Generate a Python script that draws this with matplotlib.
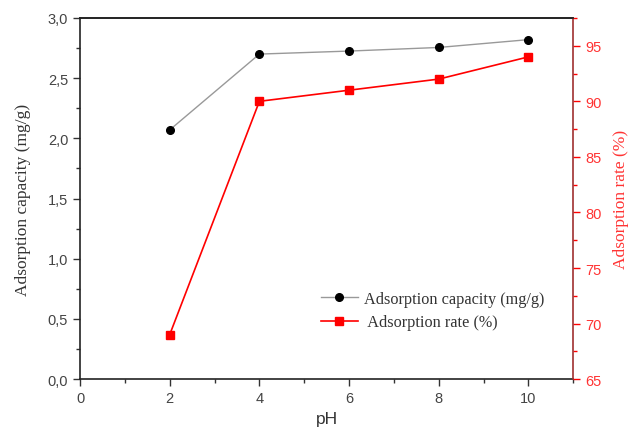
import matplotlib
matplotlib.use("Agg")
import matplotlib.pyplot as plt
from matplotlib.ticker import MultipleLocator, FuncFormatter

ph = [2, 4, 6, 8, 10]
capacity = [2.07, 2.70, 2.725, 2.755, 2.82]
rate = [69, 90, 91, 92, 94]

fig = plt.figure(figsize=(6.3, 4.31), dpi=100)
ax = fig.add_axes([0.127, 0.118, 0.783, 0.838])
ax2 = ax.twinx()

sans = "Liberation Sans"
serif = "Liberation Serif"

l1, = ax.plot(ph, capacity, color="#999999", lw=1, marker="o", ms=5.5,
              mfc="black", mec="black", label="Adsorption capacity (mg/g)")
l2, = ax2.plot(ph, rate, color="red", lw=1.2, marker="s", ms=5.5,
               mfc="red", mec="red", label=" Adsorption rate (%)")

ax.set_xlim(0, 11)
ax.set_ylim(0, 3.0)
ax2.set_ylim(65, 97.5)

ax.xaxis.set_major_locator(MultipleLocator(2))
ax.xaxis.set_minor_locator(MultipleLocator(1))
ax.yaxis.set_major_locator(MultipleLocator(0.5))
ax.yaxis.set_minor_locator(MultipleLocator(0.25))
ax2.yaxis.set_major_locator(MultipleLocator(5))
ax2.yaxis.set_minor_locator(MultipleLocator(2.5))

ax.yaxis.set_major_formatter(FuncFormatter(lambda v, p: f"{v:.1f}".replace(".", ",")))

ax.tick_params(axis="both", which="both", direction="out", colors="#333333", labelsize=10.5)
ax.tick_params(which="major", length=5, width=1)
ax.tick_params(which="minor", length=3, width=1)
for lab in ax.get_xticklabels() + ax.get_yticklabels():
    lab.set_fontfamily(sans)
ax.tick_params(axis="x", labelcolor="#444444")
ax.tick_params(axis="y", labelcolor="#444444")

ax2.tick_params(axis="y", which="both", direction="out", colors="red", labelsize=10.5)
ax2.tick_params(which="major", length=5, width=1)
ax2.tick_params(which="minor", length=3, width=1)
for lab in ax2.get_yticklabels():
    lab.set_fontfamily(sans)
    lab.set_color("#ff3333")

for s in ["left", "bottom", "top"]:
    ax.spines[s].set_color("#222222")
    ax.spines[s].set_linewidth(1.2)
ax2.spines["right"].set_color("#a03030")
ax2.spines["right"].set_linewidth(1.2)
ax2.spines["top"].set_color("#222222")
ax2.spines["top"].set_linewidth(1.2)
ax2.spines["left"].set_visible(False)
ax2.spines["bottom"].set_visible(False)
ax.spines["right"].set_visible(False)

ax.set_xlabel("pH", fontfamily=sans, fontsize=12.5, color="#333333", labelpad=4)
ax.set_ylabel("Adsorption capacity (mg/g)", fontfamily=serif, fontsize=12.5, color="#333333", labelpad=12)
ax2.set_ylabel("Adsorption rate (%)", fontfamily=serif, fontsize=12.5, color="#ff3333", labelpad=8)

leg = ax.legend(handles=[l1, l2], loc="lower right", bbox_to_anchor=(0.972, 0.095),
                frameon=False, prop={"family": serif, "size": 11.7},
                handlelength=2.3, handletextpad=0.4, labelspacing=0.45)
for t in leg.get_texts():
    t.set_color("#333333")

fig.savefig("out.png", dpi=100)
